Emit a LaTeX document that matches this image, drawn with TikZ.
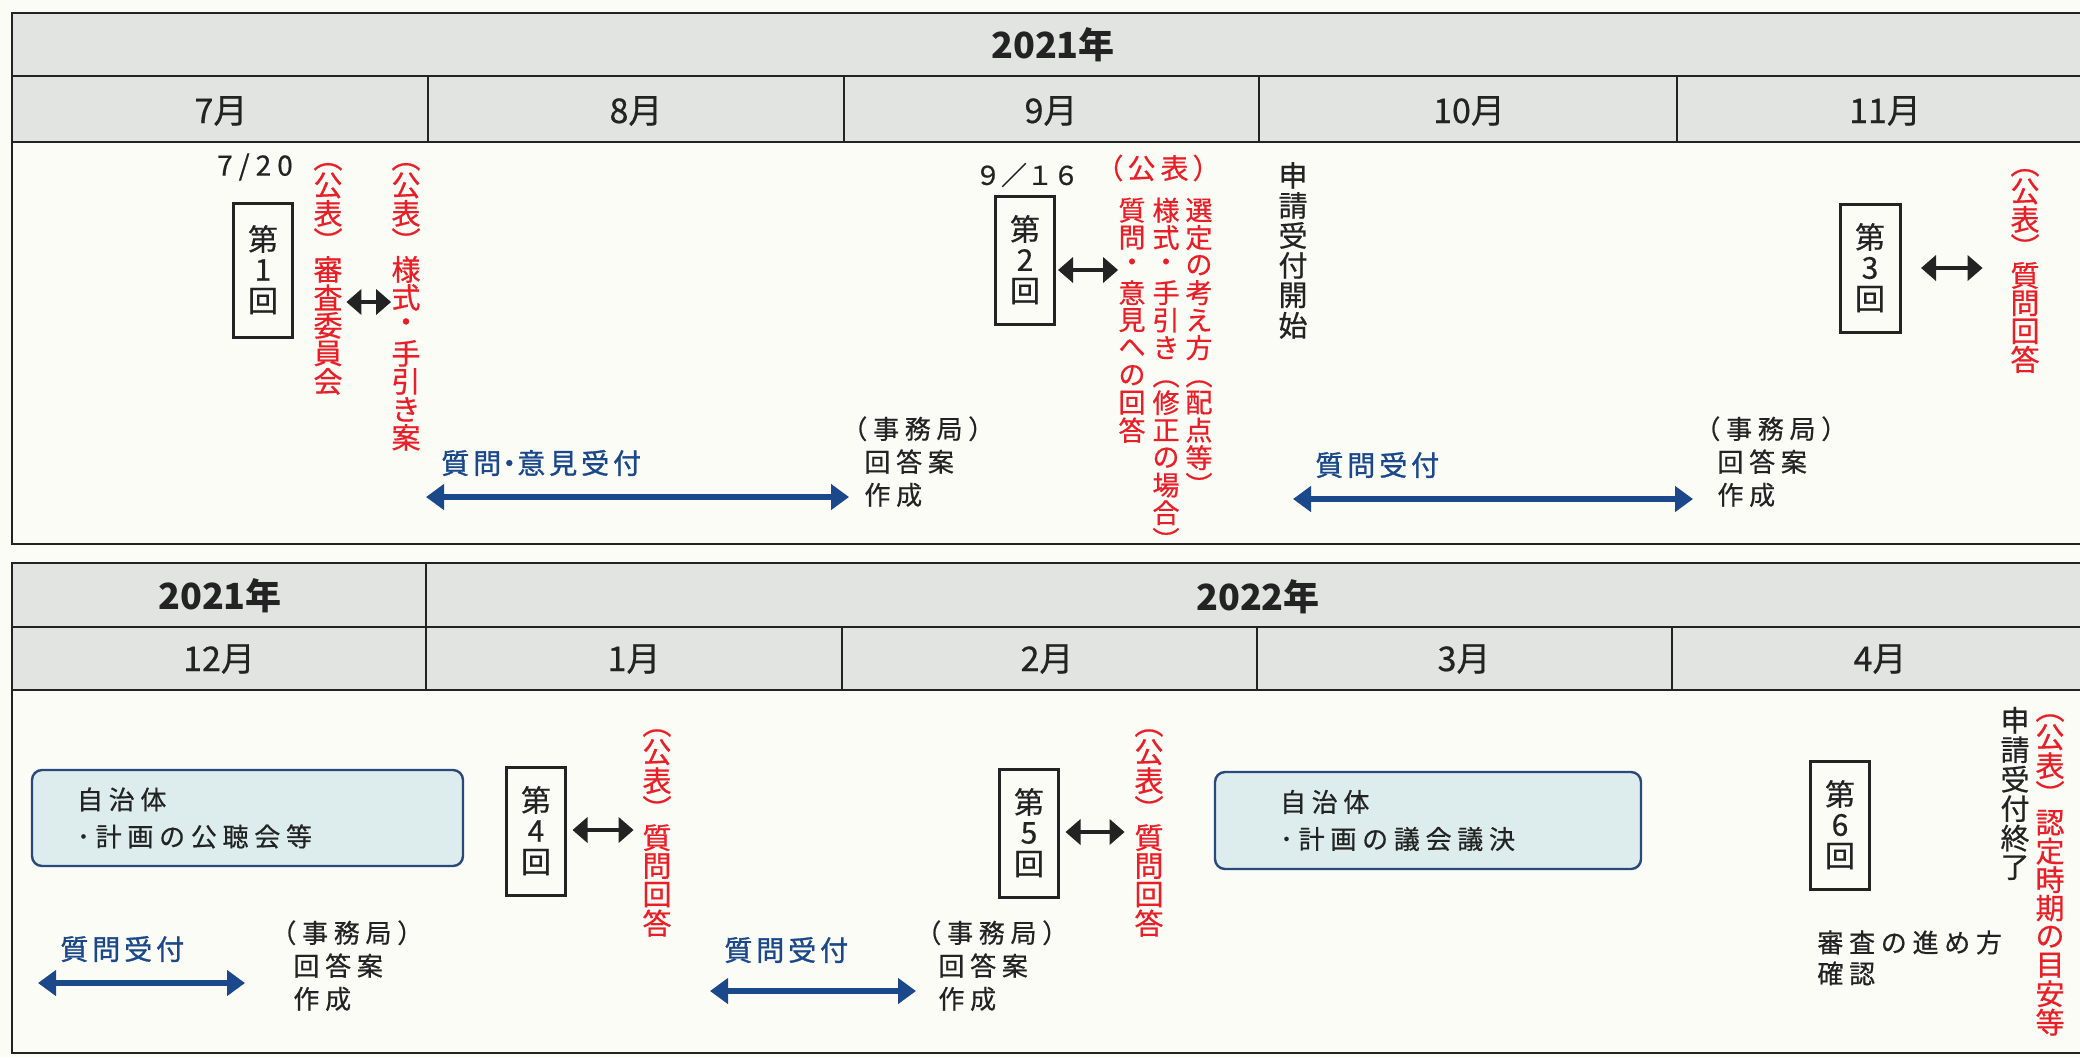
\documentclass[tikz,border=0pt]{standalone}
\usepackage{graphicx}
\usepackage{fontspec}
\setmainfont{Noto Sans CJK JP}[UprightFeatures={FakeBold=0.6}]
\newfontfamily\trackfont{Noto Sans CJK JP}[LetterSpace=22, UprightFeatures={FakeBold=0.6}]
\newfontfamily\qfont{Noto Sans CJK JP}[LetterSpace=14, UprightFeatures={FakeBold=1.1}]
\usetikzlibrary{positioning, arrows.meta}

\definecolor{hdrgray}{RGB}{226,228,226}
\definecolor{paper}{RGB}{252,252,247}
\definecolor{pubred}{RGB}{234,30,38}
\definecolor{qblue}{RGB}{26,72,138}
\definecolor{boxfill}{RGB}{221,237,238}
\definecolor{boxline}{RGB}{40,74,122}
\definecolor{ink}{RGB}{35,35,35}

\newdimen\tatepitch
\def\tateend{TaTeEnD}
\newcommand\tate[2][14pt]{\tatepitch=#1\relax\vbox{\offinterlineskip\tateloop#2\tateend}}
\def\tateloop#1{\ifx#1\tateend\else\tateslot{#1}\expandafter\tateloop\fi}
\def\tateslot#1{\vbox to\tatepitch{\vss\hbox to 1em{\hss\tateglyph{#1}\hss}\vss}}
\def\tateglyph#1{\ifx#1（\rotatebox{-90}{（}\else\ifx#1）\rotatebox{-90}{）}\else#1\fi\fi}

\tikzset{
  frame/.style={draw=ink, line width=1.4pt},
  grid/.style={draw=ink, line width=1.2pt},
  yearlbl/.style={inner sep=0pt, text=ink, font=\fontsize{18pt}{18pt}\selectfont\bfseries},
  monthlbl/.style={inner sep=0pt, text=ink, font=\fontsize{17pt}{17pt}\selectfont},
  datelbl/.style={inner sep=0pt, text=ink, font=\fontsize{14pt}{14pt}\selectfont},
  kaibox/.style={draw=ink, line width=1.5pt, minimum width=29.5pt, minimum height=64pt, inner sep=0pt, text=ink, font=\fontsize{15pt}{15pt}\selectfont},
  pubcol/.style={anchor=north, inner sep=0pt, text=pubred, font=\fontsize{14.5pt}{14.5pt}\selectfont},
  blkcol/.style={anchor=north, inner sep=0pt, text=ink, font=\fontsize{14.5pt}{14.5pt}\selectfont},
  note/.style={anchor=north west, inner sep=0pt, align=left, text=ink, font=\trackfont\fontsize{13pt}{16.5pt}\selectfont},
  qlbl/.style={anchor=west, inner sep=0pt, text=qblue, font=\qfont\fontsize{14pt}{14pt}\selectfont},
  qarr/.style={draw=qblue, line width=2.6pt, {Triangle[length=9pt,width=12.5pt]}-{Triangle[length=9pt,width=12.5pt]}},
  karr/.style={draw=ink, line width=2.2pt, {Triangle[length=7.5pt,width=12.5pt]}-{Triangle[length=7.5pt,width=12.5pt]}},
  jichi/.style={draw=boxline, line width=1.2pt, fill=boxfill, rounded corners=5pt, align=left, text=ink, font=\trackfont\fontsize{13pt}{18.5pt}\selectfont}
}

\begin{document}
\begin{tikzpicture}[x=0.5pt, y=-0.5pt]
\clip (0,0) rectangle (2080,1057);
\fill[paper] (0,0) rectangle (2080,1057);

% 2021: July - November
\fill[hdrgray] (12,13) rectangle (2096,142);
\draw[frame] (12,13) rectangle (2096,544);
\draw[grid] (12,76) -- (2096,76);
\draw[grid] (12,142) -- (2096,142);
\foreach \x in {428,844,1259,1677} \draw[grid] (\x,76) -- (\x,142);
\node[yearlbl] (y2021a) at (1053,45) {2021年};
\foreach \m/\x in {7/221,8/636,9/1051,10/1469,11/1885} \node[monthlbl] (m\m) at (\x,111) {\m 月};

\node[datelbl] (d720) at (255,167) {7\kern3pt/\kern3pt2\kern3pt0};
\node[kaibox, minimum height=67pt] (k1) at (263,270) {\tate[15.5pt]{第1回}};
\node[pubcol] (p1a) at (328,143) {\tate{（公表）審査委員会}};
\node[pubcol] (p1b) at (406,143) {\tate{（公表）様式・手引き案}};
\coordinate (a1) at (370,302);
\draw[karr, shorten <=1.75pt, shorten >=0pt] (a1 -| p1a.east) -- (a1 -| p1b.west);
\node[qlbl] (ql1) at (441,463) {質問\kern-3pt・\kern-3pt意見受付};
\coordinate (q1s) at (426,497);
\coordinate (q1e) at (849,497);
\draw[qarr] (q1s) -- (q1e);
\node[note] (jm1) at (841,416) {（事務局）\\\hspace*{11.5pt}回答案\\\hspace*{11.5pt}作成};

\node[datelbl, font=\fontsize{13pt}{13pt}\selectfont] (d916) at (1027,175) {９／１６};
\node[kaibox] (k2) at (1025,260) {\tate[15.5pt]{第2回}};
\node[datelbl, text=pubred] (p2) at (1158,168) {（\kern2pt 公\kern2.5pt 表\kern2pt ）};
\node[pubcol, font=\fontsize{13.5pt}{13.5pt}\selectfont] (p2a) at (1199,196) {\tate[13.75pt]{選定の考え方（配点等）}};
\node[pubcol, font=\fontsize{13.5pt}{13.5pt}\selectfont] (p2b) at (1166,196) {\tate[13.75pt]{様式・手引き（修正の場合）}};
\node[pubcol, font=\fontsize{13.5pt}{13.5pt}\selectfont] (p2c) at (1132,196) {\tate[13.75pt]{質問・意見への回答}};
\coordinate (a2) at (1080,270);
\draw[karr, shorten <=1pt] (a2 -| k2.east) -- (a2 -| p2c.west);

\node[blkcol] (kaishi) at (1293,160) {\tate[15pt]{申請受付開始}};
\node[qlbl] (ql2) at (1315,465) {質問受付};
\coordinate (q2s) at (1293,499);
\coordinate (q2e) at (1693,499);
\draw[qarr] (q2s) -- (q2e);
\node[note] (jm2) at (1694,416) {（事務局）\\\hspace*{11.5pt}回答案\\\hspace*{11.5pt}作成};
\node[kaibox, minimum width=30pt] (k3) at (1870,268) {\tate[15.5pt]{第3回}};
\node[pubcol] (p3) at (2025,149) {\tate{（公表）質問回答}};
\coordinate (a3) at (1950,268);
\draw[karr, shorten <=9.75pt, shorten >=13.75pt] (a3 -| k3.east) -- (a3 -| p3.west);

% 2021-2022: December - April
\fill[hdrgray] (12,563) rectangle (2096,690);
\draw[frame] (12,563) rectangle (2096,1053);
\draw[grid] (12,627) -- (2096,627);
\draw[grid] (12,690) -- (2096,690);
\draw[grid] (426,563) -- (426,690);
\foreach \x in {842,1257,1672} \draw[grid] (\x,627) -- (\x,690);
\node[yearlbl] (y2021b) at (220,596) {2021年};
\node[yearlbl] (y2022) at (1258,597) {2022年};
\foreach \m/\x in {12/219,1/634,2/1047,3/1464,4/1880} \node[monthlbl] (m\m) at (\x,659) {\m 月};

\node[jichi, minimum width=215.5pt, minimum height=48pt, inner xsep=22.5pt, text width=170.5pt] (jt1) at (247.5,818) {自治体\\･計画の公聴会等};
\node[kaibox] (k4) at (536,831) {\tate[15.5pt]{第4回}};
\node[pubcol] (p4) at (657,709) {\tate[14.25pt]{（公表）質問回答}};
\coordinate (a4) at (600,830);
\draw[karr, shorten <=2.75pt, shorten >=4.25pt] (a4 -| k4.east) -- (a4 -| p4.west);
\node[qlbl] (ql3) at (60,949) {質問受付};
\coordinate (q3s) at (38,983);
\coordinate (q3e) at (245,983);
\draw[qarr] (q3s) -- (q3e);
\node[note] (jm3) at (270,920) {（事務局）\\\hspace*{11.5pt}回答案\\\hspace*{11.5pt}作成};

\node[qlbl] (ql4) at (724,950) {質問受付};
\coordinate (q4s) at (710,991);
\coordinate (q4e) at (916,991);
\draw[qarr] (q4s) -- (q4e);
\node[note] (jm4) at (915,920) {（事務局）\\\hspace*{11.5pt}回答案\\\hspace*{11.5pt}作成};
\node[kaibox] (k5) at (1029,833) {\tate[15.5pt]{第5回}};
\node[pubcol] (p5) at (1149,709) {\tate[14.25pt]{（公表）質問回答}};
\coordinate (a5) at (1095,832);
\draw[karr, shorten <=2.75pt, shorten >=4.75pt] (a5 -| k5.east) -- (a5 -| p5.west);

\node[jichi, minimum width=213pt, minimum height=48.5pt, inner xsep=32.5pt, text width=148pt] (jt2) at (1428,820.5) {自治体\\･計画の議会議決};
\node[kaibox] (k6) at (1840,825) {\tate[15.5pt]{第6回}};
\node[note, font=\trackfont\fontsize{13pt}{15.5pt}\selectfont] (shinsa) at (1817,930) {審査の進め方\\確認};
\node[blkcol] (shuryo) at (2015,705) {\tate[14.75pt]{申請受付終了}};
\node[pubcol] (p6) at (2050,694) {\tate[14.25pt]{（公表）認定時期の目安等}};
\end{tikzpicture}
\end{document}
